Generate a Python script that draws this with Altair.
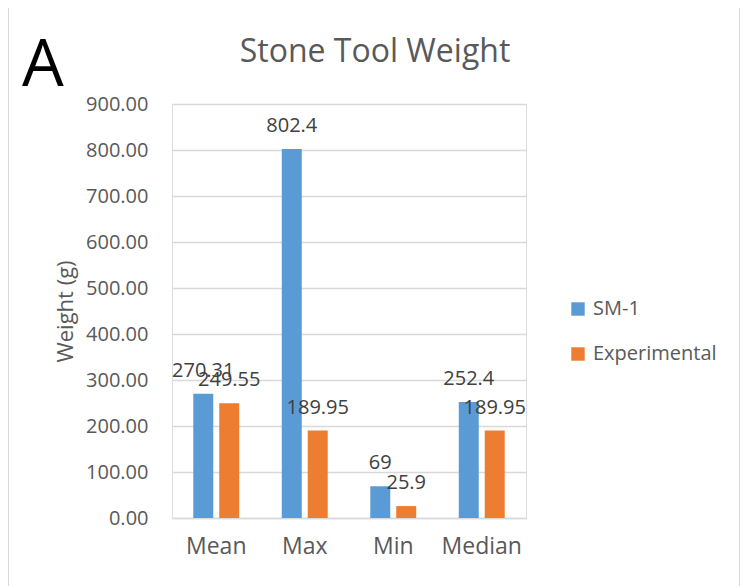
import altair as alt
import pandas as pd

categories = ["Mean", "Max", "Min", "Median"]
series = ["SM-1", "Experimental"]
sm1_values = [270.31, 802.4, 69, 252.4]
exp_values = [249.55, 189.95, 25.9, 189.95]
y_ticks = [0, 100, 200, 300, 400, 500, 600, 700, 800, 900]
chart_title = "Stone Tool Weight"
panel_letter = "A"

rows = []
for c, a, b in zip(categories, sm1_values, exp_values):
    rows.append({"cat": c, "series": "SM-1", "value": a, "label": f"{a:g}"})
    rows.append({"cat": c, "series": "Experimental", "value": b, "label": f"{b:g}"})
df = pd.DataFrame(rows)

FONT = "Open Sans"
GRAY = "#595959"

x_enc = alt.X("cat:N", sort=categories,
              scale=alt.Scale(paddingInner=0, paddingOuter=0),
              axis=alt.Axis(title=None, labelAngle=0, labelFontSize=23, labelColor=GRAY,
                            labelFont=FONT, ticks=False, domainColor="#d9d9d9",
                            domainWidth=1.3, labelPadding=17))
xo_enc = alt.XOffset("series:N", sort=series,
                     scale=alt.Scale(paddingInner=0.23, paddingOuter=0.82))
y_enc = alt.Y("value:Q", scale=alt.Scale(domain=[0, 900], nice=False),
              axis=alt.Axis(title="Weight (g)", values=y_ticks, format=".2f",
                            labelFontSize=20, labelColor=GRAY, labelFont=FONT,
                            titleFontSize=22, titleColor=GRAY, titleFont=FONT,
                            titleFontWeight="normal", titlePadding=8,
                            labelPadding=24, ticks=False, domain=False,
                            gridColor="#d9d9d9", gridWidth=1.3))

bars = alt.Chart(df).mark_bar().encode(
    x=x_enc, xOffset=xo_enc, y=y_enc,
    color=alt.Color("series:N", sort=series,
                    scale=alt.Scale(domain=series, range=["#5B9BD5", "#ED7D31"]),
                    legend=alt.Legend(title=None, orient="none", legendX=396, legendY=195,
                                      symbolType="square", symbolSize=180,
                                      symbolStrokeWidth=0,
                                      labelFontSize=20, labelColor=GRAY, labelFont=FONT,
                                      rowPadding=25, labelOffset=5)),
)

labels = alt.Chart(df).mark_text(baseline="alphabetic", dy=-17, fontSize=20,
                                 color="#404040", font=FONT).encode(
    x=x_enc, xOffset=xo_enc, y=y_enc, text="label:N")

letter = alt.Chart(alt.Data(values=[{"t": panel_letter}])).mark_text(
    align="left", baseline="alphabetic", fontSize=66, color="black", font=FONT
).encode(x=alt.value(-150), y=alt.value(-18), text="t:N")

title = alt.Chart(alt.Data(values=[{"t": chart_title}])).mark_text(
    align="center", baseline="alphabetic", fontSize=32, color=GRAY, font=FONT
).encode(x=alt.value(203), y=alt.value(-42), text="t:N")

border = alt.Chart(alt.Data(values=[{}])).mark_rect(
    fill=None, stroke="#d9d9d9", strokeWidth=2
).encode(x=alt.value(-164), x2=alt.value(568), y=alt.value(-98), y2=alt.value(485))

chart = alt.layer(border, bars, labels, letter, title).properties(
    width=354, height=414,
    autosize=alt.AutoSizeParams(type="none"),
    padding={"left": 164, "top": 96, "right": 214, "bottom": 68},
).configure_view(stroke=None).configure(background="white")

chart.save("out.html", embed_options={"renderer": "svg", "actions": False})
